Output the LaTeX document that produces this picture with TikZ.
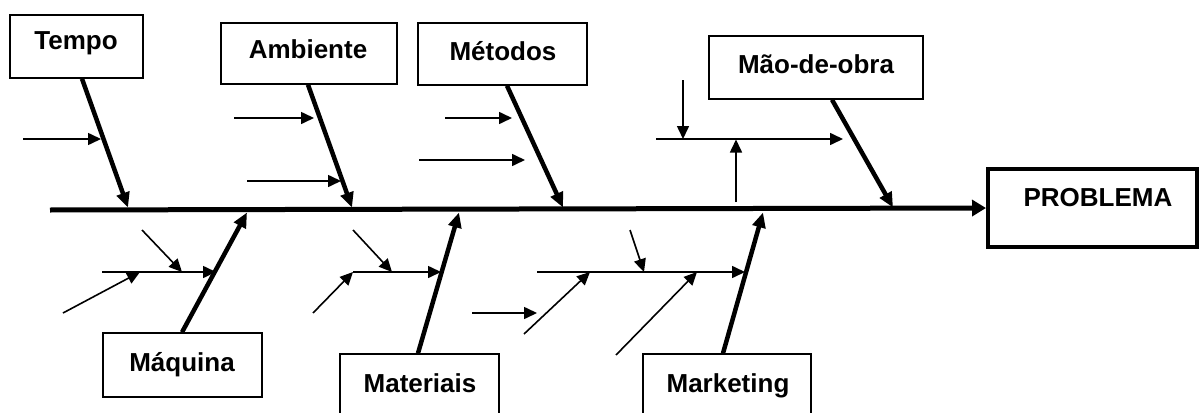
\documentclass[tikz,border=0pt]{standalone}
\usepackage{fontspec}
\setmainfont{Liberation Sans}
\usetikzlibrary{arrows.meta}
\begin{document}
\begin{tikzpicture}[x=1pt,y=-1pt,
  box/.style={draw, line width=1.5pt, rectangle, inner sep=0pt},
  bigbox/.style={draw, line width=4pt, rectangle, inner sep=0pt},
  lbl/.style={font=\bfseries\fontsize{26}{30}\selectfont, inner sep=0pt, anchor=base},
  bone/.style={line width=4.5pt, -{Triangle[length=15pt,width=13pt]}},
  spine/.style={line width=5pt, -{Triangle[length=14pt,width=16pt]}},
  twig/.style={line width=1.6pt, -{Triangle[length=13pt,width=12pt]}},
  rib/.style={line width=1.6pt}]
\useasboundingbox (0,0) rectangle (1201,412);

% boxes
\node[box, minimum width=133pt, minimum height=63pt] (tempo) at (76.5,46.5) {};
\node[box, minimum width=176pt, minimum height=61pt] (amb) at (309,53.5) {};
\node[box, minimum width=169pt, minimum height=62pt] (met) at (502.5,54) {};
\node[box, minimum width=214pt, minimum height=63pt] (mao) at (816,67.5) {};
\node[box, minimum width=159pt, minimum height=64pt] (maq) at (182.5,365) {};
\node[box, minimum width=159pt, minimum height=64pt] (mat) at (419.5,386) {};
\node[box, minimum width=168pt, minimum height=64pt] (mkt) at (727,386) {};
\node[bigbox, minimum width=209pt, minimum height=78pt] (probl) at (1092.5,208) {};

% labels
\node[lbl] (tTempo) at (76,49) {Tempo};
\node[lbl] (tAmb) at (308,59) {Ambiente};
\node[lbl] (tMet) at (503,60) {Métodos};
\node[lbl] (tMao) at (816,74) {Mão-de-obra};
\node[lbl] (tProbl) at (1098,206) {PROBLEMA};
\node[lbl] (tMaq) at (182,371) {Máquina};
\node[lbl] (tMat) at (420,392) {Materiais};
\node[lbl] (tMkt) at (728,392) {Marketing};

% spine
\coordinate (spL) at (50,210);
\draw[spine] (spL) -- (probl.west);

% junctions on spine
\coordinate (jT) at (128,207.5);
\coordinate (jA) at (352,207.5);
\coordinate (jM) at (563,207.5);
\coordinate (jO) at (893,207.5);
\coordinate (jQ) at (247,212.5);
\coordinate (jR) at (459,212.5);
\coordinate (jK) at (763,212.5);

% bones
\draw[bone] ([xshift=5.5pt]tempo.south) -- (jT);
\draw[bone] ([xshift=-1pt]amb.south) -- (jA);
\draw[bone] ([xshift=4.5pt]met.south) -- (jM);
\draw[bone] ([xshift=16pt]mao.south) -- (jO);
\draw[bone] ([xshift=-0.5pt]maq.north) -- (jQ);
\draw[bone] ([xshift=-1.5pt]mat.north) -- (jR);
\draw[bone] ([xshift=-4pt]mkt.north) -- (jK);

% Tempo twigs
\coordinate (t1a) at (23,139); \coordinate (t1b) at (101,139);
\draw[twig] (t1a) -- (t1b);

% Ambiente twigs
\coordinate (a1a) at (234,118); \coordinate (a1b) at (314,118);
\coordinate (a2a) at (247,181); \coordinate (a2b) at (341,181);
\draw[twig] (a1a) -- (a1b);
\draw[twig] (a2a) -- (a2b);

% Metodos twigs
\coordinate (m1a) at (445,118); \coordinate (m1b) at (512,118);
\coordinate (m2a) at (419,160); \coordinate (m2b) at (525,160);
\draw[twig] (m1a) -- (m1b);
\draw[twig] (m2a) -- (m2b);

% Mao-de-obra sub-branch
\coordinate (o1a) at (656,139); \coordinate (o1b) at (843,139);
\coordinate (o2a) at (683,80);  \coordinate (o2b) at (683,139);
\coordinate (o3a) at (736,202); \coordinate (o3b) at (736,139.5);
\draw[twig] (o1a) -- (o1b);
\draw[twig] (o2a) -- (o2b);
\draw[twig] (o3a) -- (o3b);

% Maquina sub-branch
\coordinate (q1a) at (102,272); \coordinate (q1b) at (216,272);
\coordinate (q2a) at (142,230); \coordinate (q2b) at (182,272);
\coordinate (q3a) at (63,313);  \coordinate (q3b) at (140,272);
\draw[twig] (q1a) -- (q1b);
\draw[twig] (q2a) -- (q2b);
\draw[twig] (q3a) -- (q3b);

% Materiais sub-branch
\coordinate (r1a) at (353,272); \coordinate (r1b) at (441,272);
\coordinate (r2a) at (353,230); \coordinate (r2b) at (392,272);
\coordinate (r3a) at (313,313); \coordinate (r3b) at (353,272);
\draw[twig] (r1a) -- (r1b);
\draw[twig] (r2a) -- (r2b);
\draw[twig] (r3a) -- (r3b);

% Marketing sub-branch
\coordinate (k1a) at (537,272); \coordinate (k1b) at (745,272);
\coordinate (k2a) at (630,230); \coordinate (k2b) at (644,272);
\coordinate (k3a) at (524,334); \coordinate (k3b) at (590,272);
\coordinate (k4a) at (616,355); \coordinate (k4b) at (697,272);
\coordinate (k5a) at (472,313); \coordinate (k5b) at (537,313);
\draw[twig] (k1a) -- (k1b);
\draw[twig] (k2a) -- (k2b);
\draw[twig] (k3a) -- (k3b);
\draw[twig] (k4a) -- (k4b);
\draw[twig] (k5a) -- (k5b);
\end{tikzpicture}
\end{document}
